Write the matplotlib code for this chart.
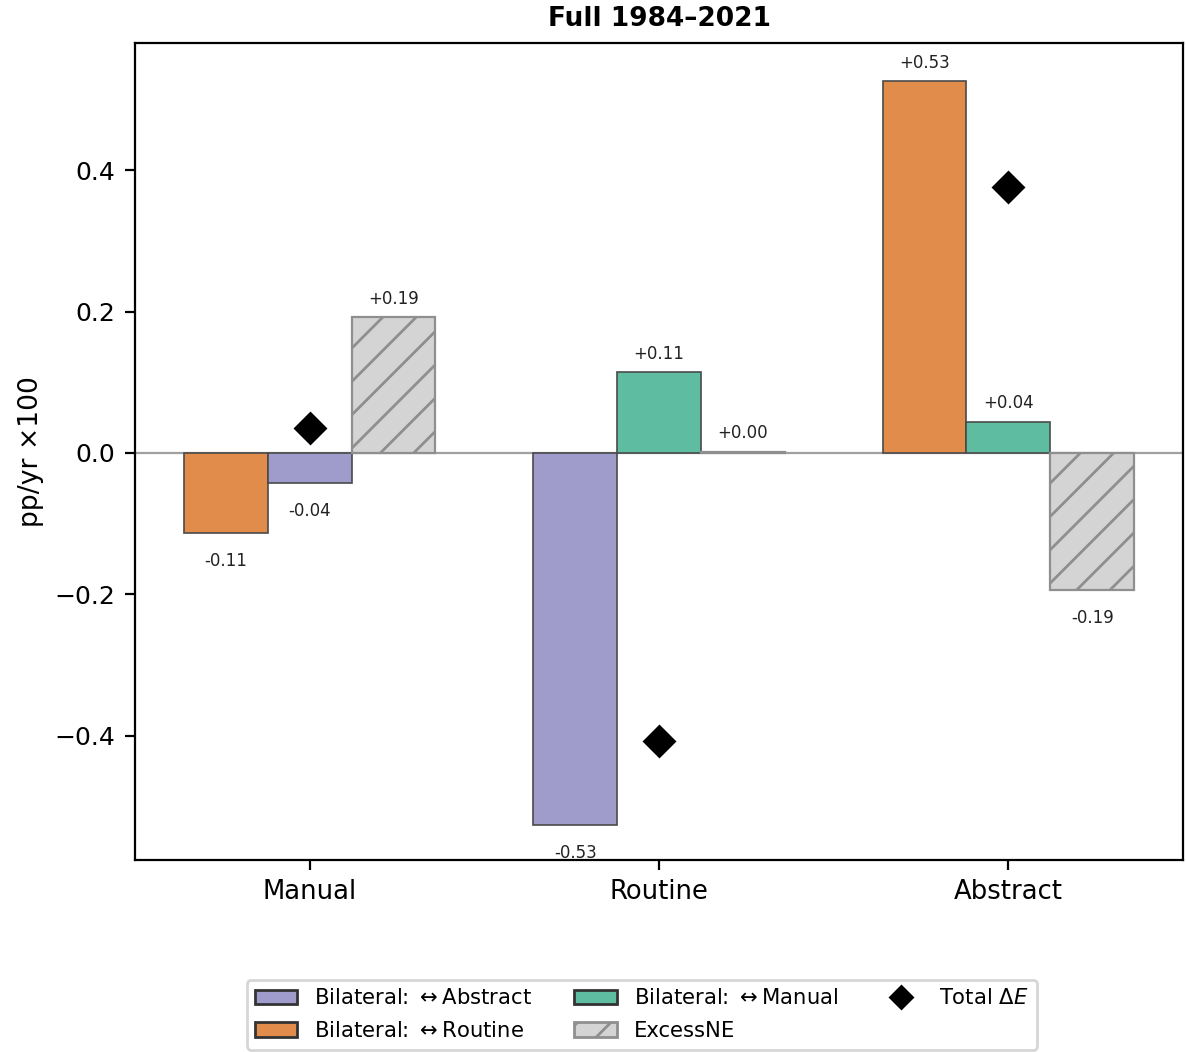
import numpy as np
import matplotlib
matplotlib.use("Agg")
import matplotlib.pyplot as plt
from matplotlib.patches import Patch
from matplotlib.lines import Line2D

#? Data
groups = ["Manual", "Routine", "Abstract"]
# three bars per group, left -> right
bar_series = [
    ["routine", "abstract", "excess"],   # Manual
    ["abstract", "manual", "excess"],    # Routine
    ["routine", "manual", "excess"],     # Abstract
]
bar_values = [
    [-0.114, -0.042, 0.192],
    [-0.527, 0.114, 0.002],
    [0.526, 0.044, -0.194],
]
total_dE = [0.035, -0.407, 0.376]

colors = {
    "abstract": "#9f9bcb",
    "routine": "#e28c4c",
    "manual": "#5ebca0",
    "excess": "#d4d4d4",
}
labels = {
    "abstract": r"Bilateral: $\leftrightarrow$Abstract",
    "routine": r"Bilateral: $\leftrightarrow$Routine",
    "manual": r"Bilateral: $\leftrightarrow$Manual",
    "excess": "ExcessNE",
}

fig = plt.figure(figsize=(5.93, 5.26), dpi=200)
ax = fig.add_axes([0.1138, 0.1825, 0.8837, 0.7766])

width = 0.24
x = np.arange(len(groups))
for gi in range(len(groups)):
    for bi, (key, val) in enumerate(zip(bar_series[gi], bar_values[gi])):
        xpos = x[gi] + (bi - 1) * width
        if key == "excess":
            ax.bar(xpos, val, width, color=colors[key], edgecolor="#8f8f8f",
                   hatch="//", linewidth=0.8, zorder=2)
        else:
            ax.bar(xpos, val, width, color=colors[key], edgecolor="#4a4a4a",
                   linewidth=0.6, zorder=2)
        if val >= 0:
            ax.annotate(f"+{val:.2f}", (xpos, val), xytext=(0, 3.4),
                        textcoords="offset points", ha="center", va="bottom",
                        fontsize=6.0, color="#222222")
        else:
            ax.annotate(f"{val:.2f}", (xpos, val), xytext=(0, -6.8),
                        textcoords="offset points", ha="center", va="top",
                        fontsize=6.0, color="#222222")

ax.plot(x, total_dE, linestyle="none", marker="D", markersize=7.5,
        color="black", zorder=3)
ax.axhline(0, color="#a0a0a0", linewidth=0.8, zorder=1)

ax.set_xlim(-0.5, 2.5)
ax.set_ylim(-0.576, 0.58)
ax.set_yticks([-0.4, -0.2, 0.0, 0.2, 0.4])
ax.set_xticks(x)
ax.set_xticklabels(groups, fontsize=9.3)
ax.tick_params(axis="y", labelsize=9.0)
ax.set_ylabel("pp/yr \u00d7100", fontsize=9.6)
ax.set_title("Full 1984\u20132021", fontsize=9.5, fontweight="bold")

handles = [
    Patch(facecolor=colors["abstract"], edgecolor="#333333", linewidth=1.0, label=labels["abstract"]),
    Patch(facecolor=colors["routine"], edgecolor="#333333", linewidth=1.0, label=labels["routine"]),
    Patch(facecolor=colors["manual"], edgecolor="#333333", linewidth=1.0, label=labels["manual"]),
    Patch(facecolor=colors["excess"], edgecolor="#8f8f8f", hatch="//", linewidth=1.0, label=labels["excess"]),
    Line2D([], [], linestyle="none", marker="D", markersize=5.5, color="black", label="Total $\\Delta E$"),
]
fig.legend(handles=handles, loc="upper center", bbox_to_anchor=(0.5413, 0.0684),
           borderaxespad=0, ncol=3, fontsize=7.6, labelspacing=0.6, frameon=True)

fig.savefig("out.png", dpi=200)
